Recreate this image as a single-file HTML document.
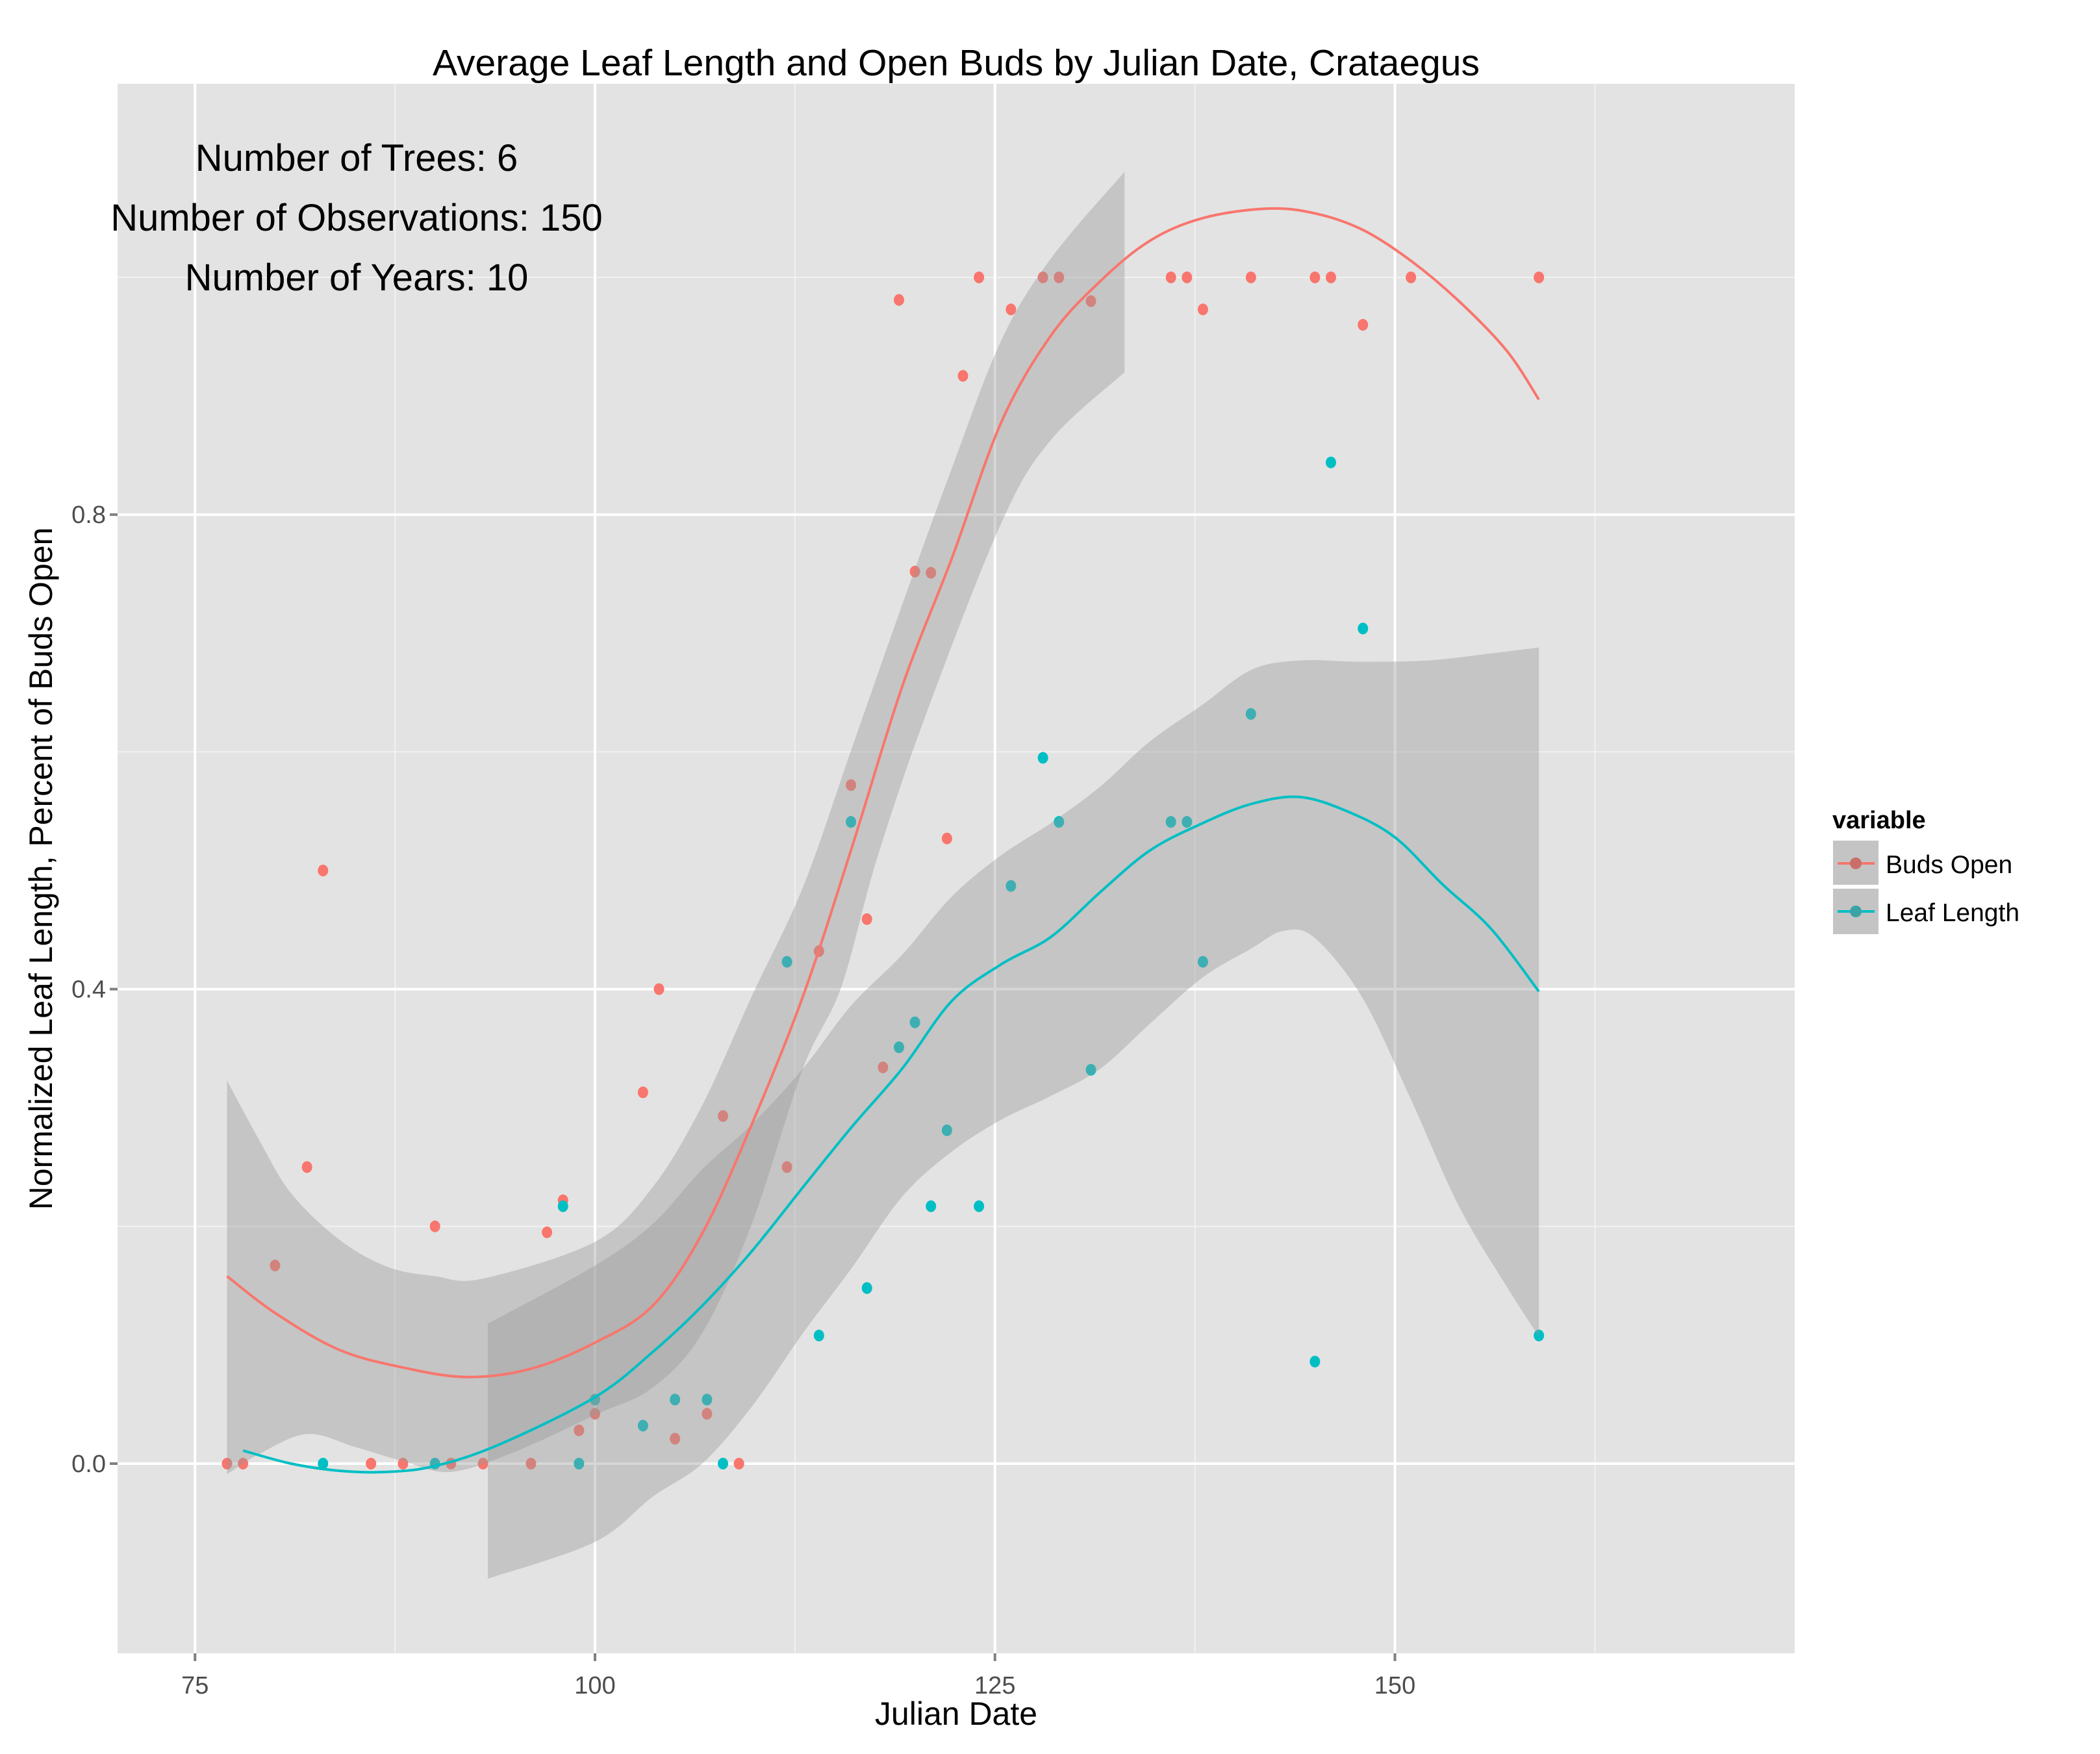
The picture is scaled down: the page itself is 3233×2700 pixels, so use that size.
<!DOCTYPE html>
<html><head><meta charset="utf-8"><style>
html,body{margin:0;padding:0;background:#fff}
svg{display:block;font-family:"Liberation Sans",Arial,sans-serif}
</style></head><body>
<svg id="chart" width="3233" height="2700" viewBox="0 0 3233 2700" xmlns="http://www.w3.org/2000/svg">
<rect x="181" y="129" width="2582" height="2416" fill="#E3E3E3"/>
<g id="grid"></g>
<g id="points"></g>
<g id="smooth"></g>
<g id="axes"></g>
<text x="1472" y="116" font-size="57" text-anchor="middle">Average Leaf Length and Open Buds by Julian Date, Crataegus</text>
<text x="549" y="263" font-size="58" text-anchor="middle">Number of Trees: 6</text>
<text x="549" y="355" font-size="58" text-anchor="middle">Number of Observations: 150</text>
<text x="549" y="447" font-size="58" text-anchor="middle">Number of Years: 10</text>
<text x="1472" y="2655" font-size="50" text-anchor="middle">Julian Date</text>
<text x="80" y="1337" font-size="50" text-anchor="middle" transform="rotate(-90 80 1337)">Normalized Leaf Length, Percent of Buds Open</text>
<g>
<text x="2821" y="1275" font-size="38" font-weight="bold">variable</text>
<g>
<rect x="2821" y="1293" width="72" height="70" fill="#C4C4C4" stroke="#fff" stroke-width="2"/>
<line x1="2829" y1="1329" x2="2886" y2="1329" stroke="#F8766D" stroke-width="4"/>
<circle cx="2857" cy="1329" r="9" fill="#C96F6A"/>
<text x="2903" y="1344" font-size="39">Buds Open</text></g>
<g>
<rect x="2821" y="1367" width="72" height="72" fill="#C4C4C4" stroke="#fff" stroke-width="2"/>
<line x1="2829" y1="1403" x2="2886" y2="1403" stroke="#00BFC4" stroke-width="4"/>
<circle cx="2857" cy="1403" r="9" fill="#3AA3A6"/>
<text x="2903" y="1418" font-size="39">Leaf Length</text></g>
</g>
</svg>
<script>
const xTicks=[75,100,125,150];
const xMinor=[87.5,112.5,137.5,162.5];
const yTicks=[0.0,0.4,0.8];
const yTickLabels=["0.0","0.4","0.8"];
const yMinor=[0.2,0.6,1.0];
const budsX=[77,78,80,82,83,86,88,90,91,93,96,97,98,99,100,103,104,105,107,108,109,112,114,116,117,118,119,120,121,122,123,124,126,128,129,131,136,137,138,141,145,146,148,151,159];
const budsY=[0,0,0.167,0.25,0.5,0,0,0.2,0,0,0,0.195,0.222,0.028,0.042,0.313,0.4,0.021,0.042,0.293,0,0.25,0.432,0.572,0.459,0.334,0.981,0.752,0.751,0.527,0.917,1,0.973,1,1,0.98,1,1,0.973,1,1,1,0.96,1,1];
const leafX=[83,90,98,99,100,103,105,107,108,112,114,116,117,119,120,121,122,124,126,128,129,131,136,137,138,141,145,146,148,159];
const leafY=[0,0,0.217,0,0.054,0.032,0.054,0.054,0,0.423,0.108,0.541,0.148,0.351,0.372,0.217,0.281,0.217,0.487,0.595,0.541,0.332,0.541,0.541,0.423,0.632,0.086,0.844,0.704,0.108];
const budsFitX=[77,80,84,88,92,96,100,103.6,106.7,109.8,113,116,119.2,122.3,125.4,128.5,131.6,134.7,138,142,145,148,151,154,157,159];
const budsFitY=[0.158,0.127,0.096,0.081,0.073,0.080,0.102,0.133,0.194,0.286,0.394,0.517,0.655,0.763,0.878,0.951,0.997,1.031,1.050,1.058,1.054,1.040,1.014,0.980,0.938,0.897];
const budsBandX=[77,79,81,84,87,90,93,100,103.6,106.7,109.8,113,116,119.2,122.3,125.4,128.5,133.1];
const budsBandHi=[0.323,0.273,0.228,0.189,0.166,0.158,0.156,0.187,0.233,0.302,0.394,0.486,0.601,0.724,0.839,0.947,1.016,1.089];
const budsBandLoX=[77,79,82,85,88,91,95,100,103.6,106.7,109.8,113,115.4,117.6,120.7,125.4,128.5,133.1];
const budsBandLo=[-0.009,0.008,0.025,0.014,0.002,-0.007,0.010,0.041,0.064,0.110,0.202,0.333,0.402,0.509,0.632,0.793,0.863,0.920];
const leafFitX=[78,81,84,87,90,94,100,103.6,106.7,109.8,113,116,119.2,122.3,125.4,128.5,131.6,134.7,138,141,144,147,150,153,156,159];
const leafFitY=[0.011,0,-0.006,-0.007,-0.002,0.016,0.056,0.094,0.133,0.179,0.233,0.283,0.333,0.390,0.421,0.444,0.482,0.517,0.540,0.556,0.562,0.550,0.528,0.488,0.451,0.398];
const leafBandX=[93.3,100,103.6,106.7,109.8,113,116,119.2,122.3,125.4,128.5,131.6,134.7,138,141,144,148,152,156,159];
const leafBandHi=[0.118,0.167,0.202,0.248,0.286,0.333,0.386,0.429,0.478,0.513,0.540,0.571,0.609,0.640,0.669,0.677,0.676,0.677,0.683,0.688];
const leafBandLoX=[93.3,100,103.6,106.7,109.8,113,116,119.2,122.3,125.4,128.5,131.6,134.7,138,141,143,145,148,151,154,157,159];
const leafBandLo=[-0.097,-0.066,-0.028,0.0,0.048,0.110,0.164,0.225,0.263,0.290,0.310,0.333,0.371,0.410,0.434,0.449,0.443,0.392,0.307,0.217,0.149,0.107];

const NS="http://www.w3.org/2000/svg";
const L=181,R=2763,T=129,B=2545;
const sx=v=>916+(v-100)*24.63;
const sy=v=>2253-v*1826;
function mk(tag,attrs,parent){const e=document.createElementNS(NS,tag);for(const k in attrs)e.setAttribute(k,attrs[k]);parent.appendChild(e);return e;}
const grid=document.getElementById('grid'),pts=document.getElementById('points'),sm=document.getElementById('smooth'),ax=document.getElementById('axes');
xMinor.forEach(v=>{const e=mk('line',{x1:sx(v),x2:sx(v),y1:T,y2:B,stroke:'#F2F2F2','stroke-width':2},grid);

});
yMinor.forEach(v=>{const e=mk('line',{x1:L,x2:R,y1:sy(v),y2:sy(v),stroke:'#F2F2F2','stroke-width':2},grid);

});
xTicks.forEach(v=>{const e=mk('line',{x1:sx(v),x2:sx(v),y1:T,y2:B,stroke:'#fff','stroke-width':4},grid);


const t=mk('line',{x1:sx(v),x2:sx(v),y1:B,y2:B+12,stroke:'#7F7F7F','stroke-width':4},ax);


const l=mk('text',{x:sx(v),y:B+62,'font-size':38,'text-anchor':'middle',fill:'#4D4D4D'},ax);l.textContent=String(v);

});
yTicks.forEach((v,i)=>{const e=mk('line',{x1:L,x2:R,y1:sy(v),y2:sy(v),stroke:'#fff','stroke-width':4},grid);


const t=mk('line',{x1:L-12,x2:L,y1:sy(v),y2:sy(v),stroke:'#7F7F7F','stroke-width':4},ax);


const l=mk('text',{x:L-18,y:sy(v)+13,'font-size':38,'text-anchor':'end',fill:'#4D4D4D'},ax);l.textContent=yTickLabels[i];

});
budsX.forEach((v,i)=>{const c=mk('ellipse',{cx:sx(v),cy:sy(budsY[i]),rx:8,ry:9,fill:'#F8766D'},pts);

});
leafX.forEach((v,i)=>{const c=mk('ellipse',{cx:sx(v),cy:sy(leafY[i]),rx:8,ry:9,fill:'#00BFC4'},pts);

});
function curve(P,start){let d=start?'M'+P[0][0]+','+P[0][1]:'L'+P[0][0]+','+P[0][1];
for(let i=0;i<P.length-1;i++){const p0=P[Math.max(i-1,0)],p1=P[i],p2=P[i+1],p3=P[Math.min(i+2,P.length-1)];
const c1=[p1[0]+(p2[0]-p0[0])/6,p1[1]+(p2[1]-p0[1])/6],c2=[p2[0]-(p3[0]-p1[0])/6,p2[1]-(p3[1]-p1[1])/6];
d+='C'+c1[0]+','+c1[1]+' '+c2[0]+','+c2[1]+' '+p2[0]+','+p2[1];}return d;}
const pp=(xs,ys)=>xs.map((v,i)=>[sx(v),sy(ys[i])]);
function band(xs,hi,xl,lo){return curve(pp(xs,hi),true)+curve(pp(xl,lo).reverse(),false)+'Z';}
function line(xs,ys){return curve(pp(xs,ys),true);}
const b1=mk('path',{d:band(budsBandX,budsBandHi,budsBandLoX,budsBandLo),fill:'#999999','fill-opacity':0.4},sm);


const b2=mk('path',{d:band(leafBandX,leafBandHi,leafBandLoX,leafBandLo),fill:'#999999','fill-opacity':0.4},sm);


const l1=mk('path',{d:line(budsFitX,budsFitY),fill:'none',stroke:'#F8766D','stroke-width':4,'stroke-linejoin':'round'},sm);


const l2=mk('path',{d:line(leafFitX,leafFitY),fill:'none',stroke:'#00BFC4','stroke-width':4,'stroke-linejoin':'round'},sm);


</script>
</body></html>
